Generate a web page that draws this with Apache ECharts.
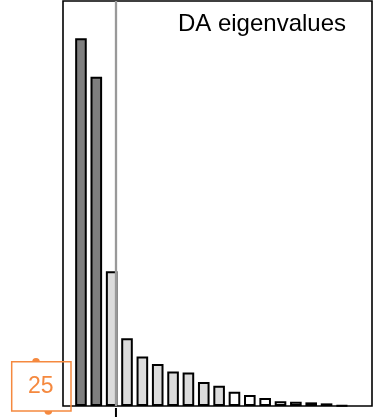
<!DOCTYPE html>
<html>
<head>
<meta charset="utf-8">
<script src="https://cdn.jsdelivr.net/npm/echarts@6/dist/echarts.min.js"></script>
<style>
html,body{margin:0;padding:0;background:#fff;}
#chart{width:375px;height:417px;}
</style>
</head>
<body>
<div id="chart"></div>
<script>
// ---- data ----
const eigIndex  = [1, 2, 3, 4, 5, 6, 7, 8, 9, 10, 11, 12, 13, 14, 15, 16, 17, 18];
const eigValues = [90.8, 81.3, 33.3, 16.7, 12.2, 10.4, 8.5, 8.3, 5.9, 5.0, 3.5, 2.7, 2.0, 1.2, 1.06, 0.9, 0.65, 0.12];
const barGroup  = ['shown','shown','retained','retained','retained','retained','retained','retained','retained','retained',
                   'other','other','other','other','other','other','other','other'];
const groupFill = {shown: '#7f7f7f', retained: '#dcdcdc', other: '#ffffff'};
const markerAt  = [3.28];
const titleText = 'DA eigenvalues';
const annotationText = '25';

const chart = echarts.init(document.getElementById('chart'), null, {renderer: 'canvas'});
const FONT = "'Liberation Sans', Arial, sans-serif";
const ORANGE = '#f5893f';

const seriesData = eigIndex.map((x, i) => ({
  value: [x, eigValues[i]],
  itemStyle: {color: groupFill[barGroup[i]]}
}));

const option = {
  animation: false,
  grid: {left: 63, top: 1, width: 309, height: 405, show: true, borderColor: '#000', borderWidth: 1.6, backgroundColor: 'transparent'},
  xAxis: {type: 'value', min: -0.17, max: 19.96, show: false},
  yAxis: {type: 'value', min: 0, max: 100, show: false},
  series: [{
    type: 'bar',
    data: seriesData,
    barWidth: 11.6,
    itemStyle: {borderColor: '#000', borderWidth: 2},
    markLine: {
      silent: true,
      symbol: ['none', 'none'],
      label: {show: false},
      lineStyle: {color: '#999999', width: 2.3, type: 'solid'},
      data: markerAt.map(v => ({xAxis: v}))
    },
    z: 2
  }]
};
chart.setOption(option);

const tickX = chart.convertToPixel({xAxisIndex: 0}, markerAt[0]);
chart.setOption({
  graphic: [
    {type: 'line', shape: {x1: tickX, y1: 408, x2: tickX, y2: 417}, style: {stroke: '#000', lineWidth: 2}},
    {type: 'text', right: 375 - 346, top: 12, style: {text: titleText, font: '24px ' + FONT, fill: '#000'}},
    {type: 'rect', shape: {x: 11.7, y: 361.7, width: 59.3, height: 49.3}, style: {fill: 'none', stroke: ORANGE, lineWidth: 1.5}, z: 10},
    {type: 'text', x: 40.8, y: 387, style: {text: annotationText, font: '23px ' + FONT, fill: ORANGE, align: 'center', verticalAlign: 'middle'}, z: 10},
    {type: 'sector', shape: {cx: 36, cy: 361.7, r: 3.8, r0: 0, startAngle: Math.PI, endAngle: 2 * Math.PI, clockwise: true}, style: {fill: ORANGE}, z: 10},
    {type: 'sector', shape: {cx: 48.3, cy: 411, r: 3.8, r0: 0, startAngle: 0, endAngle: Math.PI, clockwise: true}, style: {fill: ORANGE}, z: 10}
  ]
});
</script>
</body>
</html>
